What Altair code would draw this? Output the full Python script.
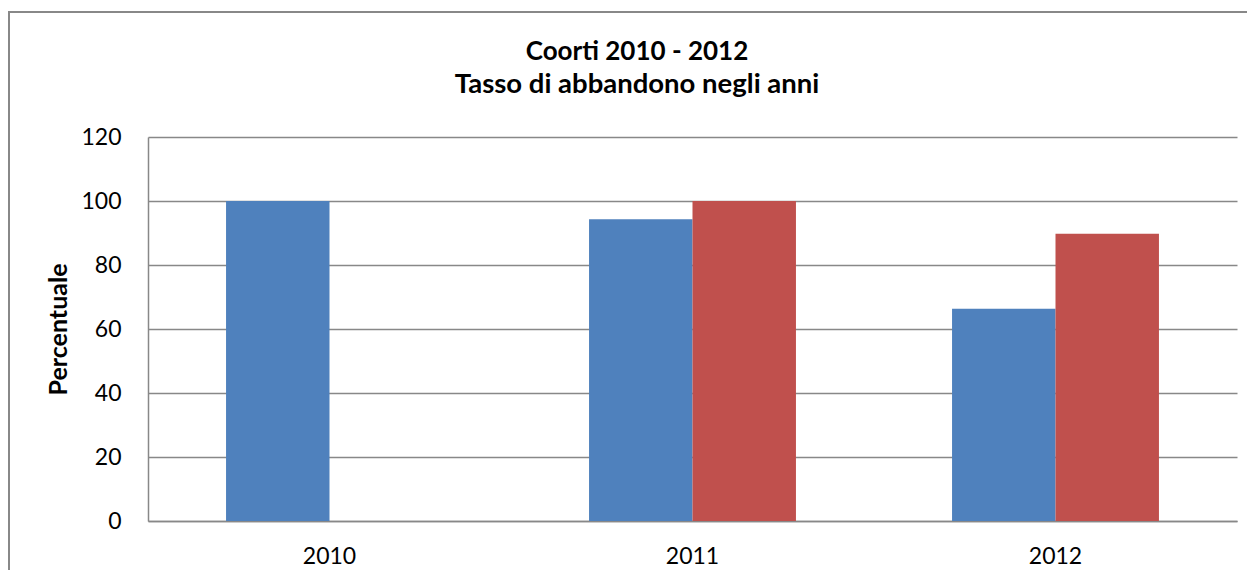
import altair as alt
import pandas as pd

anni = ["2010", "2011", "2012"]
serie = ["Coorte 2010", "Coorte 2011"]
coorte_2010 = [100, 94.3, 66.3]
coorte_2011 = [None, 100, 89.8]
colori = ["#4F81BD", "#C0504D"]
y_ticks = [0, 20, 40, 60, 80, 100, 120]
titolo = ["Coorti 2010 - 2012", "Tasso di abbandono negli anni"]

rows = []
for nome, valori in zip(serie, [coorte_2010, coorte_2011]):
    for a, v in zip(anni, valori):
        if v is not None:
            rows.append({"anno": a, "serie": nome, "valore": v})
df = pd.DataFrame(rows)

FONT = "Lato"
GRID = "#888888"
one = pd.DataFrame({"k": [0]})

frame = alt.Chart(one).mark_rect(
    fillOpacity=0, stroke=GRID, strokeWidth=2, clip=False
).encode(
    x=alt.value(-139), x2=alt.value(1300), y=alt.value(-125), y2=alt.value(700)
)

title_marks = [
    alt.Chart(one).mark_text(
        text=t, font=FONT, fontSize=fs, fontWeight="bold", color="black",
        align="center", baseline="alphabetic", clip=False
    ).encode(x=alt.value(489), y=alt.value(yy))
    for t, yy, fs in zip(titolo, [-77, -44], [26, 27.5])
]

bars = alt.Chart(df).mark_bar().encode(
    x=alt.X(
        "anno:N", sort=anni, title=None,
        scale=alt.Scale(paddingInner=0.43, paddingOuter=0.215),
        axis=alt.Axis(labelAngle=0, labelFontSize=23, labelPadding=24, ticks=False,
                      domainColor=GRID, domainWidth=1.5, grid=False, labelFont=FONT,
                      labelColor="black"),
    ),
    xOffset=alt.XOffset("serie:N", sort=serie,
                        scale=alt.Scale(domain=serie, paddingInner=0, paddingOuter=0)),
    y=alt.Y(
        "valore:Q", scale=alt.Scale(domain=[0, 120]),
        axis=alt.Axis(values=y_ticks, title="Percentuale", ticks=False, grid=True,
                      gridColor=GRID, gridWidth=1.3, domainColor=GRID, domainWidth=1.5,
                      labelFontSize=23, labelFont=FONT, labelColor="black", labelPadding=27,
                      titleFont=FONT, titleFontSize=25, titleFontWeight="bold",
                      titleColor="black", titleX=-90, titleY=192, titleAngle=270,
                      titleBaseline="middle", titleAlign="center"),
    ),
    color=alt.Color("serie:N", scale=alt.Scale(domain=serie, range=colori), legend=None),
)

chart = alt.layer(frame, *title_marks, bars).properties(
    width=1089,
    height=384,
    padding={"left": 140, "top": 129, "right": 10, "bottom": 49},
    autosize=alt.AutoSizeParams(type="none"),
).configure_view(stroke="transparent")

chart.save("out.html", embed_options={"renderer": "svg", "actions": False})
